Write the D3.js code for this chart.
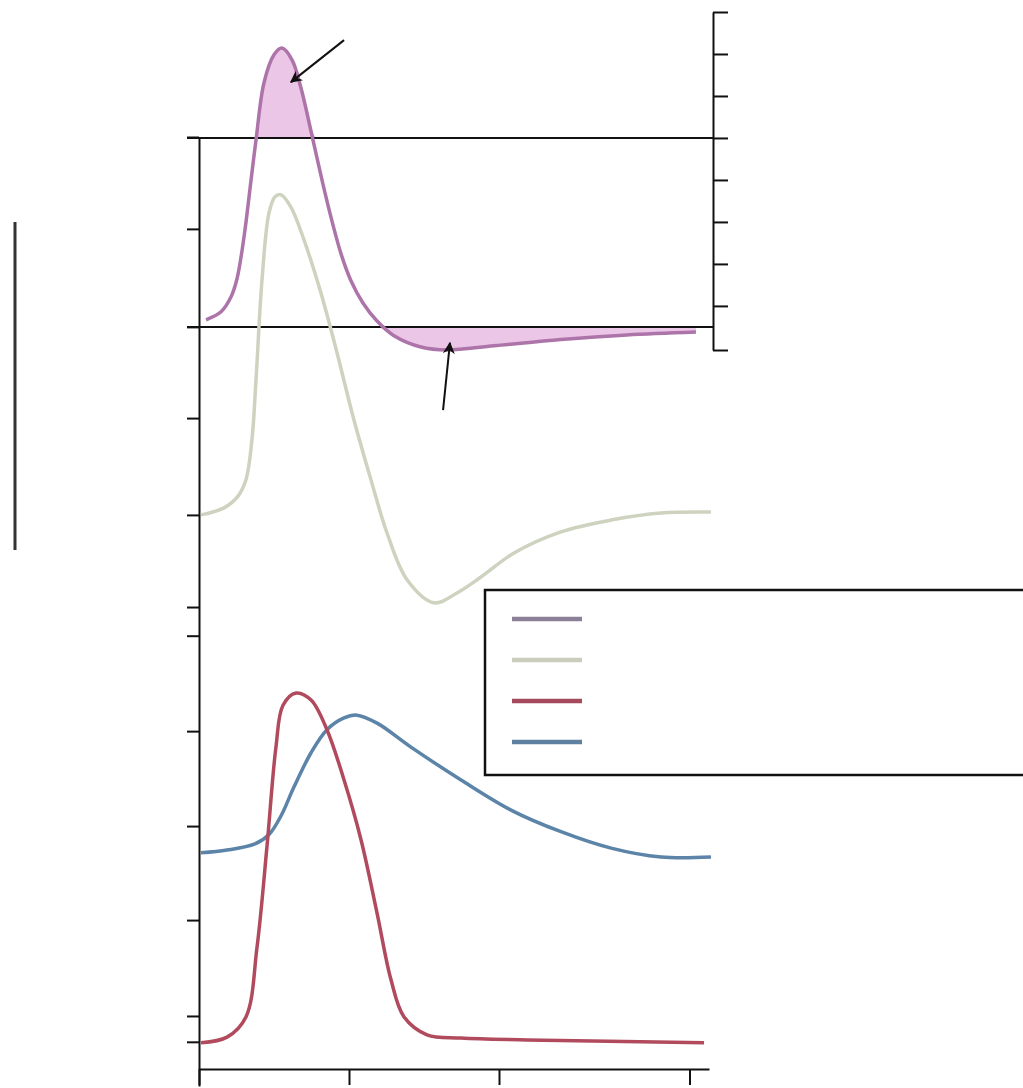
<!DOCTYPE html>
<html>
<head>
<meta charset="utf-8">
<script src="https://cdn.jsdelivr.net/npm/d3@7"></script>
<style>
    body { margin: 0; background: #fff; }
    .axis path, .axis line { stroke: #111; stroke-width: 2; }
</style>
</head>
<body>
<script>
//time values (x) and the four traces
var xTicks = [0, 1, 2, 3.27];
var leftTicks = [40.4, 20.85, 0, -19.4, -40, -59.6, -65.7, -86, -106.2, -126.2, -146.6, -152.1];
var rightTicks = [7.5, 6.5, 5.5, 4.5, 3.5, 2.5, 1.5, 0.5, -0.55];

//net current, right scale
var netT = [0.047, 0.147, 0.213, 0.253, 0.3, 0.347, 0.38, 0.433, 0.5, 0.553, 0.62, 0.68, 0.733, 0.787, 0.84, 0.893, 0.947, 1.013, 1.093, 1.187, 1.3, 1.48, 1.653, 1.967, 2.413, 2.853, 3.313];
var netV = [0.17, 0.36, 0.71, 1.14, 2.14, 3.5, 4.45, 5.81, 6.48, 6.64, 6.36, 5.69, 4.88, 4.02, 3.19, 2.43, 1.74, 1.1, 0.57, 0.14, -0.21, -0.48, -0.55, -0.45, -0.3, -0.19, -0.12];

//potential, left scale
var vmT = [0.013, 0.167, 0.26, 0.313, 0.353, 0.38, 0.42, 0.467, 0.507, 0.547, 0.613, 0.7, 0.813, 0.92, 1.033, 1.147, 1.253, 1.387, 1.567, 1.72, 1.88, 2.1, 2.413, 2.747, 3.08, 3.413];
var vmV = [-40, -38.5, -36, -32.5, -24, -11.3, 10, 24.3, 27.7, 28.1, 25.5, 18.5, 7.2, -5.5, -19.8, -32.6, -43.8, -53.8, -58.7, -56.6, -53.2, -48.1, -43.6, -41.1, -39.6, -39.4];

//red trace, left scale
var naT = [0.013, 0.187, 0.313, 0.387, 0.453, 0.513, 0.56, 0.647, 0.747, 0.853, 0.967, 1.08, 1.187, 1.28, 1.367, 1.52, 1.747, 2.187, 3.367];
var naV = [-152.3, -151.1, -146.8, -131.9, -110.6, -89.4, -80.5, -77.9, -79.4, -85.7, -96.4, -109.1, -124.7, -138.9, -146.8, -150.6, -151.3, -151.7, -152.3];

//blue trace, left scale
var kT = [0.013, 0.187, 0.373, 0.467, 0.547, 0.633, 0.747, 0.853, 0.967, 1.053, 1.187, 1.413, 1.747, 2.08, 2.413, 2.747, 3.08, 3.413];
var kV = [-111.9, -111.3, -110, -108, -104, -97.9, -90.6, -85.7, -83.2, -82.6, -84.3, -89.4, -96.4, -102.8, -107.4, -110.9, -112.8, -112.8];

var legendColors = ["#8c8098", "#cacdbb", "#a54a5c", "#5f809e"];

var width = 1023,
    height = 1088;

var svg = d3.select("body")
    .append("svg")
    .attr("width", width)
    .attr("height", height);

var x = d3.scaleLinear().domain([0, 3.4]).range([199, 709]);
var yL = d3.scaleLinear().domain([40.4, -161.5]).range([137, 1086]);
var yR = d3.scaleLinear().domain([7.5, -0.55]).range([12, 350]);
var rightX = 713;
var smooth = d3.curveCatmullRom.alpha(0.5);

function pts(t, v){
    return t.map(function(d, i){ return [d, v[i]]; });
}

var netData = pts(netT, netV);

//shaded parts of the net current
var areaTop = d3.area()
    .curve(smooth)
    .x(function(d){ return x(d[0]); })
    .y0(yR(4.5))
    .y1(function(d){ return yR(Math.max(d[1], 4.5)); });

var areaNeg = d3.area()
    .curve(smooth)
    .x(function(d){ return x(d[0]); })
    .y0(yR(0))
    .y1(function(d){ return yR(Math.min(d[1], 0)); });

svg.append("path").datum(netData).attr("d", areaTop).attr("fill", "#ecc6e6");
svg.append("path").datum(netData).attr("d", areaNeg).attr("fill", "#ecc6e6");

//axes
svg.append("g")
    .attr("class", "axis")
    .attr("transform", "translate(" + x(0) + ",0)")
    .call(d3.axisLeft(yL).tickValues(leftTicks).tickSize(12).tickSizeOuter(0).tickFormat(""));

svg.append("g")
    .attr("class", "axis")
    .attr("transform", "translate(0," + 1069 + ")")
    .call(d3.axisBottom(x).tickValues(xTicks).tickSize(16).tickSizeOuter(0).tickFormat(""));

svg.append("g")
    .attr("class", "axis")
    .attr("transform", "translate(" + rightX + ",0)")
    .call(d3.axisRight(yR).tickValues(rightTicks).tickSize(15).tickSizeOuter(0).tickFormat(""));

//reference lines across the top panel
[4.5, 0].forEach(function(v){
    svg.append("line")
        .attr("x1", x(0) - 12).attr("x2", rightX)
        .attr("y1", yR(v)).attr("y2", yR(v))
        .attr("stroke", "#111").attr("stroke-width", 2);
});

//scale bar at the far left
svg.append("line")
    .attr("x1", 15).attr("x2", 15)
    .attr("y1", 222).attr("y2", 550)
    .attr("stroke", "#333").attr("stroke-width", 3);

var lineL = d3.line()
    .curve(smooth)
    .x(function(d){ return x(d[0]); })
    .y(function(d){ return yL(d[1]); });

var lineR = d3.line()
    .curve(smooth)
    .x(function(d){ return x(d[0]); })
    .y(function(d){ return yR(d[1]); });

svg.append("path").datum(pts(vmT, vmV)).attr("d", lineL)
    .attr("fill", "none").attr("stroke", "#cdd3bf").attr("stroke-width", 3.5);

svg.append("path").datum(pts(kT, kV)).attr("d", lineL)
    .attr("fill", "none").attr("stroke", "#5b84a8").attr("stroke-width", 3.5);

svg.append("path").datum(pts(naT, naV)).attr("d", lineL)
    .attr("fill", "none").attr("stroke", "#b04a5c").attr("stroke-width", 3.5);

svg.append("path").datum(netData).attr("d", lineR)
    .attr("fill", "none").attr("stroke", "#ad74aa").attr("stroke-width", 3.5);

//arrows
svg.append("defs").append("marker")
    .attr("id", "head")
    .attr("viewBox", "0 0 10 10")
    .attr("refX", 9).attr("refY", 5)
    .attr("markerWidth", 7).attr("markerHeight", 6)
    .attr("orient", "auto")
    .append("path")
    .attr("d", "M0,0 L10,5 L0,10 L3,5 Z")
    .attr("fill", "#111");

var arrows = [
    {from: [0.967, 6.83], to: [0.613, 5.83]},
    {from: [1.627, -1.98], to: [1.673, -0.38]}
];

svg.selectAll(".arrow")
    .data(arrows)
    .enter()
    .append("line")
    .attr("class", "arrow")
    .attr("x1", function(d){ return x(d.from[0]); })
    .attr("y1", function(d){ return yR(d.from[1]); })
    .attr("x2", function(d){ return x(d.to[0]); })
    .attr("y2", function(d){ return yR(d.to[1]); })
    .attr("stroke", "#111")
    .attr("stroke-width", 2)
    .attr("marker-end", "url(#head)");

//legend box
var legend = svg.append("g").attr("transform", "translate(485,590)");

legend.append("rect")
    .attr("width", 560).attr("height", 185)
    .attr("fill", "#fff")
    .attr("stroke", "#111").attr("stroke-width", 2.5);

legend.selectAll(".key")
    .data(legendColors)
    .enter()
    .append("line")
    .attr("class", "key")
    .attr("x1", 27).attr("x2", 97)
    .attr("y1", function(d, i){ return 29 + i * 41; })
    .attr("y2", function(d, i){ return 29 + i * 41; })
    .attr("stroke", function(d){ return d; })
    .attr("stroke-width", 4.5);
</script>
</body>
</html>
